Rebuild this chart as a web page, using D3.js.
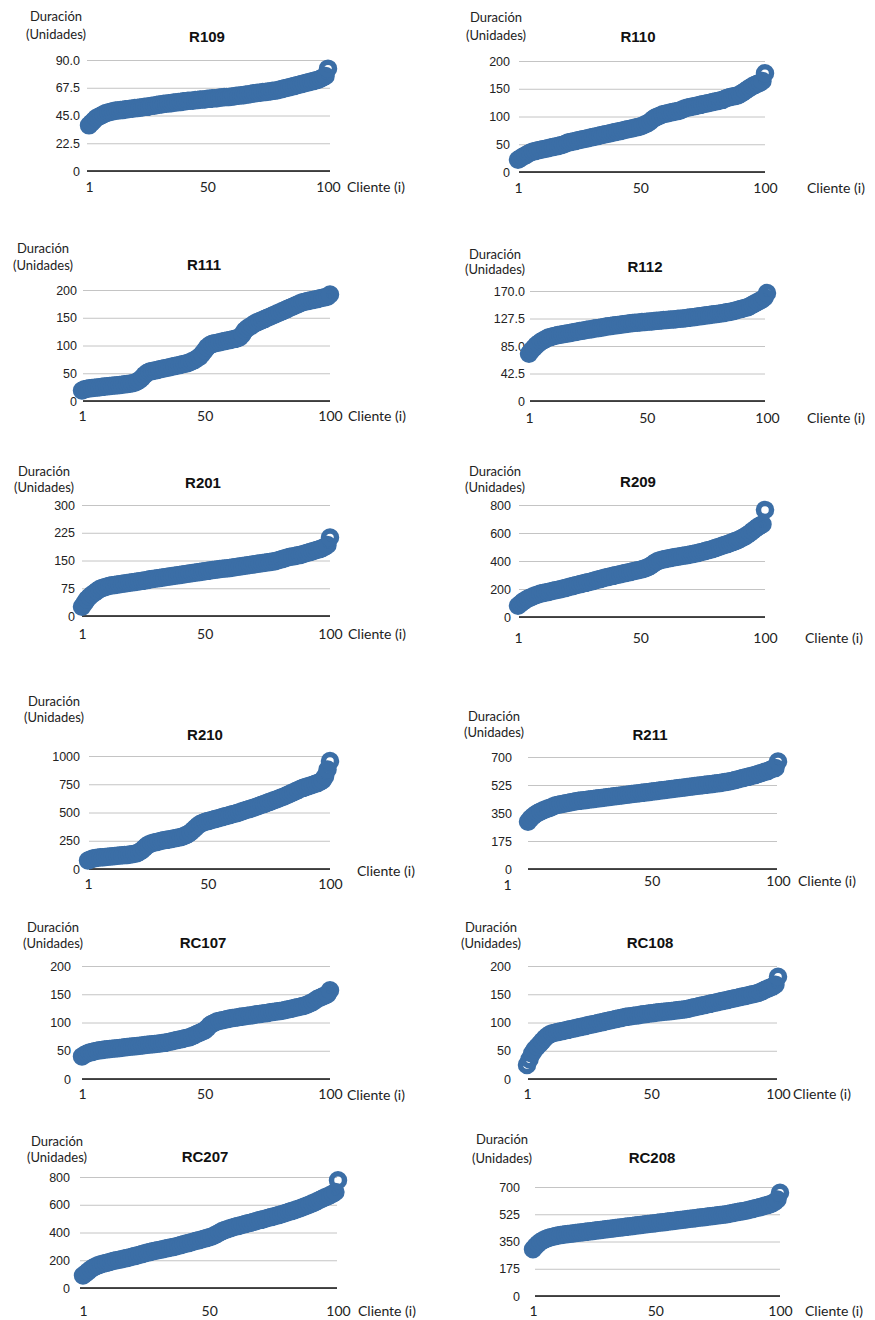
<!DOCTYPE html>
<html>
<head>
<meta charset="utf-8">
<script src="https://cdn.jsdelivr.net/npm/d3@7"></script>
<style>
  html, body { margin: 0; padding: 0; background: #fff; }
  svg { display: block; }
</style>
</head>
<body>
<svg id="chart" width="875" height="1320"></svg>
<script>
// Panel titles (instances) and shared axis texts
const titles = ["R109", "R110", "R111", "R112", "R201", "R209", "R210", "R211", "RC107", "RC108", "RC207", "RC208"];
const yLabelLines = ["Duración", "(Unidades)"];
const xLabel = "Cliente (i)";
const xTicks = [1, 50, 100];

// Y tick values per panel
const ticksR109 = [0, 22.5, 45, 67.5, 90];
const ticksR110 = [0, 50, 100, 150, 200];
const ticksR111 = [0, 50, 100, 150, 200];
const ticksR112 = [0, 42.5, 85, 127.5, 170];
const ticksR201 = [0, 75, 150, 225, 300];
const ticksR209 = [0, 200, 400, 600, 800];
const ticksR210 = [0, 250, 500, 750, 1000];
const ticksR211 = [0, 175, 350, 525, 700];
const ticksRC107 = [0, 50, 100, 150, 200];
const ticksRC108 = [0, 50, 100, 150, 200];
const ticksRC207 = [0, 200, 400, 600, 800];
const ticksRC208 = [0, 175, 350, 525, 700];

// Duration of each client (i = 1..100), sorted ascending
const durR109 = [
  37, 39, 41, 43, 44, 45, 46, 47, 47.5, 48,
  48.5, 49, 49, 49.5, 49.5, 50, 50, 50.5, 50.5, 51,
  51, 51.5, 51.5, 52, 52, 52.5, 53, 53, 53.5, 54,
  54, 54.5, 54.5, 55, 55, 55.5, 55.5, 56, 56, 56.5,
  56.5, 57, 57, 57, 57.5, 57.5, 58, 58, 58, 58.5,
  58.5, 59, 59, 59, 59.5, 59.5, 60, 60, 60, 60.5,
  60.5, 61, 61, 61.5, 61.5, 62, 62, 62.5, 63, 63,
  63.5, 63.5, 64, 64, 64.5, 64.5, 65, 65, 65.5, 66,
  66.5, 67, 67.5, 68, 68.5, 69, 69.5, 70, 70.5, 71,
  71.5, 72, 72.5, 73, 73.5, 74, 75, 76, 77, 83
];
const durR110 = [
  22, 25, 28, 30, 33, 35, 37, 38, 39, 40,
  41, 42, 43, 44, 45, 46, 47, 48, 49, 51,
  53, 54, 55, 56, 57, 58, 59, 60, 61, 62,
  63, 64, 65, 66, 67, 68, 69, 70, 71, 72,
  73, 74, 75, 76, 77, 78, 79, 80, 81, 82,
  84, 86, 88, 91, 95, 98, 100, 102, 104, 105,
  106, 107, 108, 109, 110, 111, 113, 115, 116, 117,
  118, 119, 120, 121, 122, 123, 124, 125, 126, 127,
  128, 129, 130, 132, 134, 135, 136, 137, 138, 140,
  143, 146, 149, 152, 155, 157, 159, 161, 164, 178
];
const durR111 = [
  19, 21, 22, 23, 23.5, 24, 24.5, 25, 25.5, 26,
  26.5, 27, 27.5, 28, 28.5, 29, 29.5, 30, 30.5, 31,
  32, 33, 35, 38, 42, 47, 51, 53, 54, 55,
  56, 57, 58, 59, 60, 61, 62, 63, 64, 65,
  66, 67, 68, 70, 72, 74, 77, 80, 85, 91,
  97, 101, 103, 104, 105, 106, 107, 108, 109, 110,
  111, 112, 113, 115, 120, 127, 131, 134, 137, 140,
  142, 144, 146, 148, 150, 152, 154, 156, 158, 160,
  162, 164, 166, 168, 170, 172, 174, 176, 178, 179,
  180, 181, 182, 183, 184, 185, 186, 187, 188, 192
];
const durR112 = [
  73, 78, 82, 86, 89, 92, 94, 96, 98, 99,
  100, 101, 102, 102.5, 103, 104, 104.5, 105, 106, 106.5,
  107, 108, 108.5, 109, 110, 110.5, 111, 112, 112.5, 113,
  113.5, 114, 115, 115.5, 116, 116.5, 117, 117.5, 118, 118.5,
  119, 119.5, 120, 120.5, 121, 121, 121.5, 122, 122, 122.5,
  123, 123, 123.5, 124, 124, 124.5, 125, 125, 125.5, 126,
  126, 126.5, 127, 127, 127.5, 128, 128.5, 129, 129.5, 130,
  130.5, 131, 131.5, 132, 132.5, 133, 133.5, 134, 134.5, 135,
  135.5, 136, 137, 137.5, 138, 139, 140, 141, 142, 143,
  144, 145, 147, 149, 151, 153, 155, 157, 160, 167
];
const durR201 = [
  25, 35, 45, 52, 58, 63, 68, 73, 76, 78,
  80, 82, 83, 84, 85, 86, 87, 88, 89, 90,
  91, 92, 93, 94, 95, 96, 97, 99, 100, 101,
  102, 103, 104, 105, 106, 107, 108, 109, 110, 111,
  112, 113, 114, 115, 116, 117, 118, 119, 120, 121,
  122, 123, 124, 125, 126, 127, 128, 128.5, 129, 130,
  131, 132, 133, 134, 135, 136, 137, 138, 139, 140,
  141, 142, 143, 144, 145, 146, 147, 148, 150, 152,
  154, 156, 158, 160, 161, 162, 164, 165, 167, 169,
  171, 173, 175, 177, 179, 181, 184, 187, 192, 212
];
const durR209 = [
  80, 95, 110, 122, 132, 140, 148, 155, 161, 167,
  171, 175, 179, 183, 187, 191, 195, 199, 203, 207,
  212, 217, 222, 227, 231, 235, 240, 244, 248, 252,
  257, 262, 267, 272, 277, 282, 286, 290, 294, 298,
  302, 306, 310, 314, 318, 322, 326, 330, 334, 338,
  343, 349, 356, 365, 377, 390, 400, 405, 410, 414,
  418, 422, 425, 428, 431, 434, 437, 440, 443, 446,
  450, 454, 458, 462, 466, 471, 476, 481, 486, 492,
  498, 504, 510, 516, 522, 528, 535, 542, 549, 557,
  566, 576, 588, 600, 615, 628, 642, 654, 662, 765
];
const durR210 = [
  75, 85, 92, 97, 100, 103, 105, 107, 109, 111,
  113, 115, 117, 119, 121, 123, 125, 128, 131, 135,
  140, 150, 165, 185, 205, 220, 228, 234, 239, 244,
  250, 254, 258, 262, 266, 270, 274, 278, 283, 290,
  300, 310, 325, 345, 365, 385, 400, 410, 418, 424,
  430, 436, 442, 448, 454, 460, 466, 472, 478, 484,
  490, 496, 503, 510, 517, 524, 531, 538, 545, 552,
  560, 568, 576, 584, 592, 600, 608, 616, 624, 632,
  640, 650, 660, 670, 680, 690, 700, 710, 718, 725,
  732, 739, 746, 754, 762, 772, 785, 820, 880, 955
];
const durR211 = [
  295, 315, 330, 342, 352, 360, 367, 373, 379, 385,
  392, 398, 402, 405, 408, 411, 414, 417, 420, 423,
  426, 428, 430, 432, 434, 436, 438, 440, 442, 444,
  446, 448, 450, 452, 454, 456, 458, 460, 462, 464,
  466, 468, 470, 472, 474, 476, 478, 480, 482, 484,
  486, 488, 490, 492, 494, 496, 498, 500, 502, 504,
  506, 508, 510, 512, 514, 516, 518, 520, 522, 524,
  526, 528, 530, 532, 534, 536, 538, 540, 543, 546,
  549, 552, 556, 560, 564, 568, 572, 576, 580, 584,
  588, 593, 598, 603, 608, 613, 620, 628, 632, 672
];
const durRC107 = [
  40, 43, 45, 47, 48, 49, 50, 51, 51.5, 52,
  52.5, 53, 53.5, 54, 54.5, 55, 55.5, 56, 56.5, 57,
  57.5, 58, 58.5, 59, 59.5, 60, 60.5, 61, 61.5, 62,
  62.5, 63, 63.5, 64, 65, 66, 67, 68, 69, 70,
  71, 72, 73, 74, 76, 78, 80, 82, 84, 86,
  90, 95, 98, 100, 102, 103, 104, 105, 106, 107,
  108, 108.5, 109, 110, 110.5, 111, 112, 112.5, 113, 114,
  114.5, 115, 116, 116.5, 117, 118, 118.5, 119, 120, 120.5,
  121, 122, 123, 124, 125, 126, 127, 128, 129, 130,
  132, 134, 136, 139, 142, 144, 146, 148, 150, 157
];
const durRC108 = [
  25, 35, 45, 52, 57, 62, 67, 72, 76, 79,
  81, 82, 83, 84, 85, 86, 87, 88, 89, 90,
  91, 92, 93, 94, 95, 96, 97, 98, 99, 100,
  101, 102, 103, 104, 105, 106, 107, 108, 109, 110,
  110.5, 111, 112, 112.5, 113, 114, 114.5, 115, 116, 116.5,
  117, 117.5, 118, 118.5, 119, 119.5, 120, 120.5, 121, 121.5,
  122, 122.5, 123, 124, 125, 126, 127, 128, 129, 130,
  131, 132, 133, 134, 135, 136, 137, 138, 139, 140,
  141, 142, 143, 144, 145, 146, 147, 148, 149, 150,
  151, 152, 154, 156, 158, 160, 162, 164, 167, 181
];
const durRC207 = [
  90, 105, 120, 135, 148, 157, 165, 171, 176, 181,
  186, 191, 196, 200, 204, 208, 212, 216, 220, 225,
  230, 235, 240, 245, 250, 255, 260, 264, 268, 272,
  276, 280, 284, 288, 292, 296, 300, 305, 310, 315,
  320, 325, 330, 335, 340, 345, 350, 355, 360, 366,
  372, 380, 390, 400, 410, 418, 424, 430, 436, 441,
  446, 451, 456, 461, 466, 471, 476, 481, 486, 491,
  496, 501, 506, 511, 516, 521, 526, 531, 537, 543,
  549, 555, 561, 567, 573, 580, 587, 594, 602, 610,
  618, 627, 636, 645, 654, 662, 670, 680, 692, 776
];
const durRC208 = [
  300, 320, 335, 348, 358, 366, 372, 377, 381, 385,
  388, 391, 394, 396, 398, 400, 402, 404, 406, 408,
  410, 412, 414, 416, 418, 420, 422, 424, 426, 428,
  430, 432, 434, 436, 438, 440, 442, 444, 446, 448,
  450, 452, 454, 456, 458, 460, 462, 464, 466, 468,
  470, 472, 474, 476, 478, 480, 482, 484, 486, 488,
  490, 492, 494, 496, 498, 500, 502, 504, 506, 508,
  510, 512, 514, 516, 518, 520, 522, 524, 527, 530,
  533, 536, 539, 542, 545, 548, 551, 555, 559, 563,
  567, 571, 575, 580, 585, 590, 596, 605, 620, 663
];

const allTicks = [ticksR109, ticksR110, ticksR111, ticksR112, ticksR201, ticksR209,
                  ticksR210, ticksR211, ticksRC107, ticksRC108, ticksRC207, ticksRC208];
const allSeries = [durR109, durR110, durR111, durR112, durR201, durR209,
                   durR210, durR211, durRC107, durRC108, durRC207, durRC208];
const oneDecimal = [true, false, false, true, false, false, false, false, false, false, false, false];

// Frame of each panel on the page (grid extent, plot extent, text anchors)
const frames = [
  {gx0: 87,  gx1: 330, yTop: 60,   yBot: 171,  px0: 89,  px1: 328, tx: 207, ty: 42,   lx: 56,  ly1: 21,   ly2: 39,   lab: 80,  xly: 192,  cx: 347, cy: 192},
  {gx0: 519, gx1: 765, yTop: 61,   yBot: 172,  px0: 518, px1: 765, tx: 638, ty: 42,   lx: 496, ly1: 22,   ly2: 40,   lab: 510, xly: 193,  cx: 807, cy: 193},
  {gx0: 83,  gx1: 330, yTop: 290,  yBot: 401,  px0: 82,  px1: 330, tx: 204, ty: 270,  lx: 43,  ly1: 253,  ly2: 270,  lab: 77,  xly: 421,  cx: 348, cy: 421},
  {gx0: 530, gx1: 765, yTop: 291,  yBot: 401,  px0: 529, px1: 767, tx: 645, ty: 272,  lx: 495, ly1: 259,  ly2: 274,  lab: 525, xly: 423,  cx: 807, cy: 423},
  {gx0: 82,  gx1: 330, yTop: 505,  yBot: 616,  px0: 82,  px1: 330, tx: 203, ty: 488,  lx: 44,  ly1: 476,  ly2: 492,  lab: 75,  xly: 639,  cx: 348, cy: 639},
  {gx0: 519, gx1: 765, yTop: 505,  yBot: 617,  px0: 518, px1: 765, tx: 638, ty: 487,  lx: 495, ly1: 476,  ly2: 492,  lab: 511, xly: 643,  cx: 805, cy: 643},
  {gx0: 89,  gx1: 330, yTop: 756,  yBot: 869,  px0: 88,  px1: 330, tx: 205, ty: 740,  lx: 54,  ly1: 706,  ly2: 722,  lab: 80,  xly: 889,  cx: 357, cy: 876},
  {gx0: 528, gx1: 777, yTop: 757,  yBot: 869,  px0: 528, px1: 778, tx: 650, ty: 740,  lx: 494, ly1: 721,  ly2: 737,  lab: 512, xly: 886,  cx: 798, cy: 886, firstShift: [-21, 4]},
  {gx0: 82,  gx1: 330, yTop: 966,  yBot: 1079, px0: 82,  px1: 330, tx: 203, ty: 948,  lx: 53,  ly1: 932,  ly2: 948,  lab: 71,  xly: 1099, cx: 347, cy: 1100},
  {gx0: 528, gx1: 777, yTop: 966,  yBot: 1079, px0: 527, px1: 778, tx: 650, ty: 948,  lx: 491, ly1: 932,  ly2: 948,  lab: 511, xly: 1099, cx: 793, cy: 1099},
  {gx0: 80,  gx1: 337, yTop: 1177, yBot: 1288, px0: 83,  px1: 338, tx: 205, ty: 1162, lx: 57,  ly1: 1146, ly2: 1162, lab: 70,  xly: 1316, cx: 358, cy: 1316},
  {gx0: 535, gx1: 780, yTop: 1187, yBot: 1296, px0: 533, px1: 780, tx: 652, ty: 1163, lx: 502, ly1: 1144, ly2: 1163, lab: 520, xly: 1316, cx: 805, cy: 1316}
];

const BLUE = "#3b6ea6";
const svg = d3.select("#chart");
svg.append("rect").attr("width", 875).attr("height", 1320).attr("fill", "#fff");

titles.forEach((title, k) => {
  const f = frames[k];
  const ticks = allTicks[k];
  const data = allSeries[k];
  const g = svg.append("g").attr("class", "panel");

  const x = d3.scaleLinear().domain([1, 100]).range([f.px0, f.px1]);
  const y = d3.scaleLinear().domain([0, d3.max(ticks)]).range([f.yBot, f.yTop]);
  const fmt = oneDecimal[k] ? (d => d === 0 ? "0" : d3.format(".1f")(d)) : d3.format("d");

  // Horizontal gridlines with value labels
  const yAxis = d3.axisLeft(y)
    .tickValues(ticks)
    .tickFormat(fmt)
    .tickSizeInner(-(f.gx1 - f.gx0))
    .tickSizeOuter(0)
    .tickPadding(f.gx0 - f.lab);
  const ya = g.append("g").attr("transform", `translate(${f.gx0},0)`).call(yAxis);
  ya.select(".domain").remove();
  ya.selectAll(".tick line").attr("stroke", "#c4c4c4").attr("stroke-width", 1);
  ya.selectAll(".tick text")
    .attr("fill", "#222")
    .style("font-family", "'Liberation Sans', Arial, sans-serif")
    .style("font-size", "12.5px");

  // Baseline at zero
  g.append("line")
    .attr("x1", f.gx0).attr("x2", f.gx1)
    .attr("y1", y(0)).attr("y2", y(0))
    .attr("stroke", "#111").attr("stroke-width", 1.6);

  // Client index labels
  const xAxis = d3.axisBottom(x).tickValues(xTicks).tickSize(0).tickFormat(d3.format("d"));
  const xa = g.append("g").attr("transform", `translate(0,${f.yBot})`).call(xAxis);
  xa.select(".domain").remove();
  xa.selectAll(".tick text")
    .attr("y", f.xly - f.yBot)
    .attr("dy", 0)
    .attr("fill", "#222")
    .style("font-family", "Lato, 'Open Sans', sans-serif")
    .style("font-size", "14px");
  if (f.firstShift) {
    xa.selectAll(".tick text").filter(d => d === 1)
      .attr("dx", f.firstShift[0])
      .attr("y", f.xly - f.yBot + f.firstShift[1]);
  }

  // Durations: thick hollow circles
  g.append("g").selectAll("circle")
    .data(data)
    .join("circle")
    .attr("cx", (d, i) => x(i + 1))
    .attr("cy", d => y(d))
    .attr("r", 6.5)
    .attr("fill", "none")
    .attr("stroke", BLUE)
    .attr("stroke-width", 5.5);

  // Title
  g.append("text")
    .attr("x", f.tx).attr("y", f.ty)
    .attr("text-anchor", "middle")
    .attr("fill", "#111")
    .style("font-family", "'Liberation Sans', Arial, sans-serif")
    .style("font-weight", "bold")
    .style("font-size", "15px")
    .text(title);

  // Axis captions
  const cap = g.append("text")
    .attr("text-anchor", "middle")
    .attr("fill", "#222")
    .style("font-family", "Lato, 'Open Sans', sans-serif")
    .style("font-size", "13px");
  cap.append("tspan").attr("x", f.lx).attr("y", f.ly1).text(yLabelLines[0]);
  cap.append("tspan").attr("x", f.lx).attr("y", f.ly2).text(yLabelLines[1]);

  g.append("text")
    .attr("x", f.cx).attr("y", f.cy)
    .attr("fill", "#222")
    .style("font-family", "Lato, 'Open Sans', sans-serif")
    .style("font-size", "14px")
    .text(xLabel);
});
</script>
</body>
</html>
